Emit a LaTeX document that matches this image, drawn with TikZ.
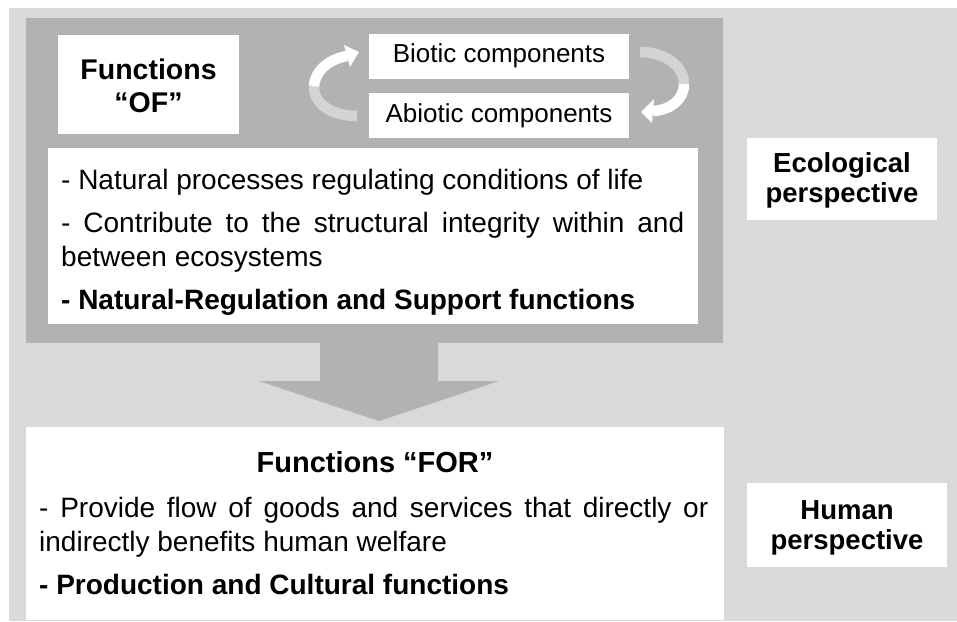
\documentclass[tikz,border=0pt]{standalone}
\usepackage{fontspec}
\setmainfont{Liberation Sans}
\definecolor{bgpale}{gray}{0.85}
\definecolor{bgdark}{gray}{0.70}
\begin{document}
\begin{tikzpicture}[x=1pt,y=-1pt,
  panel/.style={fill=white, draw=none, inner sep=0pt, anchor=north west},
  body/.style={inner sep=0pt, anchor=base west, align=justify,
    font=\fontsize{28}{34}\selectfont},
  title/.style={inner sep=0pt, anchor=base, align=center,
    font=\bfseries\fontsize{28.5}{33}\selectfont},
  persp/.style={inner sep=0pt, anchor=base, align=center, text width=200pt,
    font=\bfseries\fontsize{27.5}{30}\selectfont},
  comp/.style={panel, anchor=center, minimum width=260pt, minimum height=45pt,
    font=\fontsize{26}{28}\selectfont},
  ribbon/.style={draw=white, line width=10.5pt, line cap=butt},
  faded/.style={ribbon, draw opacity=0.45}]

% page frame and background panels
\useasboundingbox (0,0) rectangle (957,621);
\fill[bgpale] (9,8) rectangle (957,621);
\fill[bgdark] (26,18) rectangle (723,343);

% broad arrow leading down to the "FOR" panel
\fill[bgdark] (320,343) -- (438,343) -- (438,381) -- (499,381)
  -- (379,421) -- (259,381) -- (320,381) -- cycle;

% white panels
\node[panel, minimum width=181pt, minimum height=99pt] (ofbox) at (58,35) {};
\node[panel, minimum width=650pt, minimum height=176pt] (ofbody) at (48,148) {};
\node[panel, minimum width=698pt, minimum height=193pt] (forbox) at (26,427) {};
\node[panel, minimum width=190pt, minimum height=82pt] (ecobox) at (747,138) {};
\node[panel, minimum width=200pt, minimum height=84pt] (humbox) at (747,483) {};

% component boxes
\node[comp] (biotic) at (499,56) {Biotic components};
\node[comp] (abiotic) at (499,115.5) {Abiotic components};

% cycle arrows between the components
\coordinate (lstart) at (357,116);
\coordinate (lmid) at (314,86);
\coordinate (lend) at (347,56);
\draw[faded] (lstart) .. controls (330,116) and (313,102) .. (lmid);
\draw[ribbon] (lmid) .. controls (315,70) and (330,59) .. (lend);
\fill[white] (344,45) -- (359,52) -- (350,67) -- cycle;

\coordinate (rstart) at (640,52);
\coordinate (rmid) at (684,84);
\coordinate (rend) at (653,111);
\draw[faded] (rstart) .. controls (665,52) and (684,66) .. (rmid);
\draw[ribbon] (rmid) .. controls (684,100) and (670,110) .. (rend);
\fill[white] (654,99) -- (641,112) -- (652,123) -- cycle;

% texts
\node[title, text width=181pt] (oftitle) at (148.5,79) {Functions\\“OF”};

\node[body, text width=623pt] (oftext) at (61,189)
  {\setlength{\parskip}{9pt}\hyphenpenalty=10000
   - Natural processes regulating conditions of life\par
   - Contribute to the structural integrity within and between ecosystems\par
   \textbf{- Natural-Regulation and Support functions}};

\node[title, font=\bfseries\fontsize{29}{33}\selectfont] (fortitle) at (375,472)
  {Functions “FOR”};

\node[body, text width=669pt] (fortext) at (39,517)
  {\setlength{\parskip}{9pt}\hyphenpenalty=10000
   - Provide flow of goods and services that directly or indirectly benefits human welfare\par
   \textbf{- Production and Cultural functions}};

\node[persp] (ecotext) at (842,172) {Ecological\\perspective};
\node[persp] (humtext) at (847,519) {Human\\perspective};
\end{tikzpicture}
\end{document}
